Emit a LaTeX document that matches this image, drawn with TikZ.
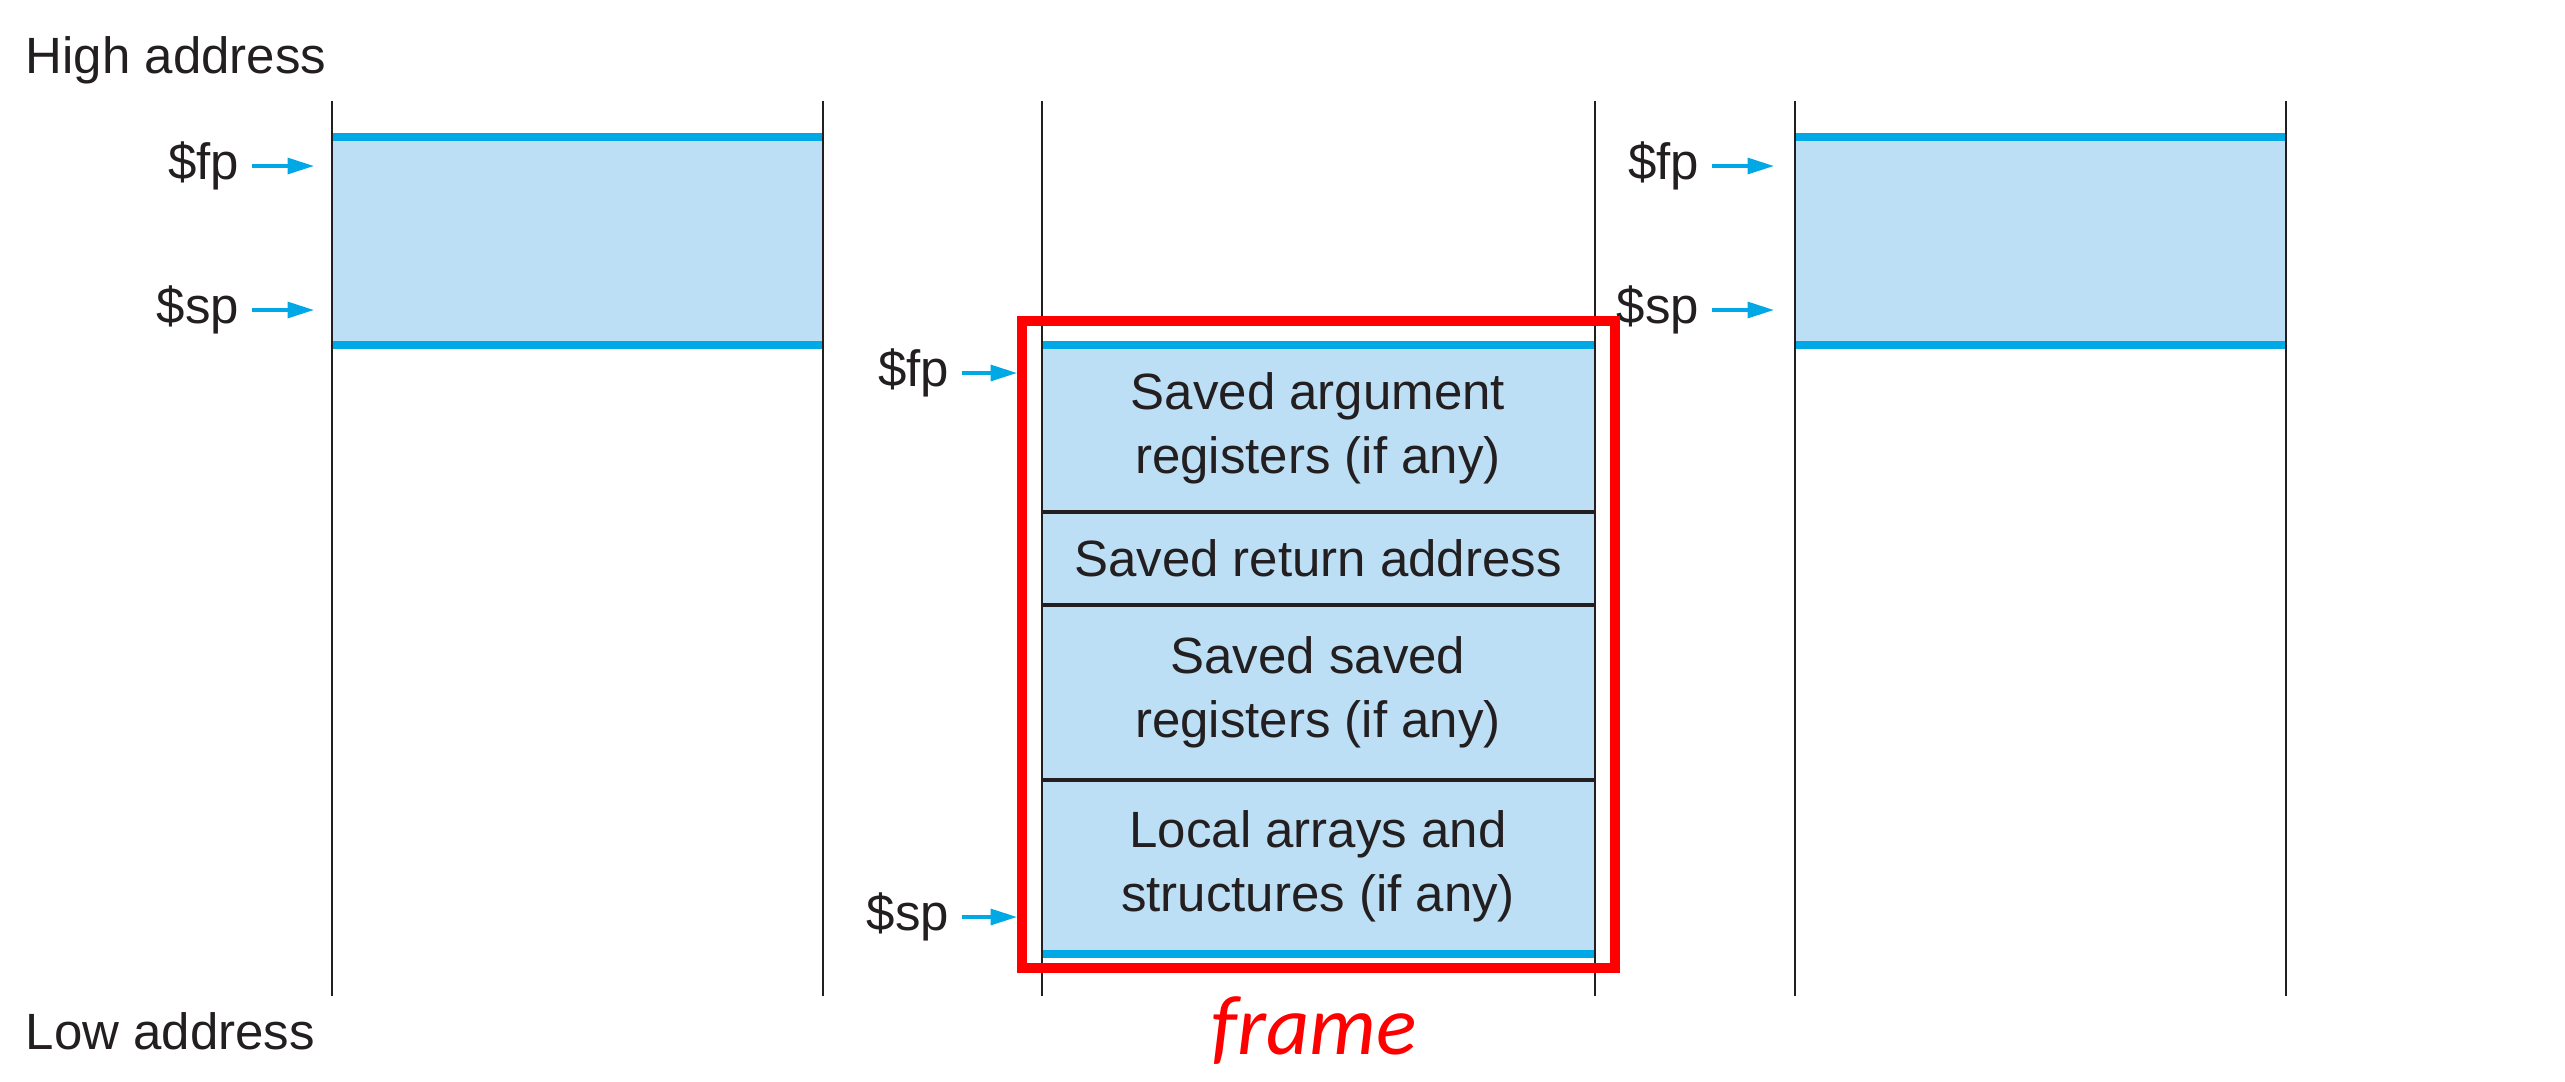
\documentclass[tikz,border=0pt]{standalone}
\usepackage{fontspec}
\setmainfont{Liberation Sans}
\newfontfamily\framefont{Carlito}
\usetikzlibrary{arrows.meta,positioning}

\definecolor{cellfill}{HTML}{BCDFF5}
\definecolor{ptrblue}{HTML}{00A9E5}
\definecolor{wallgray}{HTML}{231F20}

\begin{document}
\begin{tikzpicture}[x=0.01cm,y=-0.01cm,
  wall/.style={wallgray,line width=0.8pt},
  bound/.style={ptrblue,line width=2.5pt},
  sepline/.style={wallgray,line width=0.9pt},
  lbl/.style={font=\fontsize{14.5}{18}\selectfont,text=wallgray,inner xsep=3.5pt,inner ysep=0pt},
  ptr/.style={->,>={Triangle[length=7.5pt,width=4.5pt]},ptrblue,line width=1pt},
  cell/.style={font=\fontsize{14.5}{18.2}\selectfont,text=wallgray,align=center},
  side/.style={font=\fontsize{14.5}{18}\selectfont,text=wallgray,inner sep=0pt,anchor=base west}]
\useasboundingbox (0,0) rectangle (2565,1081);

% stack contents
\fill[cellfill] (332,137) rectangle (823,345);
\fill[cellfill] (1042,345) rectangle (1595,954);
\fill[cellfill] (1795,137) rectangle (2286,345);
\foreach \y in {512,605,780}
  \draw[sepline] (1042,\y) -- (1595,\y);
\draw[bound] (332,137) -- (823,137);
\draw[bound] (332,345) -- (823,345);
\draw[bound] (1042,345) -- (1595,345);
\draw[bound] (1042,954) -- (1595,954);
\draw[bound] (1795,137) -- (2286,137);
\draw[bound] (1795,345) -- (2286,345);
\foreach \x in {332,823,1042,1595,1795,2286}
  \draw[wall] (\x,101) -- (\x,996);

\node[side] (high) at (25,73) {High address};
\node[side] (low) at (25,1049) {Low address};

\node[cell] (args) at (1318,428) {Saved argument\\registers (if any)};
\node[cell] (retaddr) at (1318,558) {Saved return address};
\node[cell] (saved) at (1318,692) {Saved saved\\registers (if any)};
\node[cell] (locals) at (1318,866) {Local arrays and\\structures (if any)};

% pointers
\coordinate (fpatip) at (314,166);
\coordinate (spatip) at (314,310);
\coordinate (fpbtip) at (1017,373);
\coordinate (spbtip) at (1017,917);
\coordinate (fpctip) at (1774,166);
\coordinate (spctip) at (1774,310);
\node[lbl,anchor=east] (fpa) at (252,166) {\$fp};
\node[lbl,anchor=east] (spa) at (252,310) {\$sp};
\node[lbl,anchor=east] (fpb) at (962,373) {\$fp};
\node[lbl,anchor=east] (spb) at (962,917) {\$sp};
\node[lbl,anchor=east] (fpc) at (1712,166) {\$fp};
\node[lbl,anchor=east] (spc) at (1712,310) {\$sp};
\draw[ptr] (fpa) -- (fpatip);
\draw[ptr] (spa) -- (spatip);
\draw[ptr] (fpb) -- (fpbtip);
\draw[ptr] (spb) -- (spbtip);
\draw[ptr] (fpc) -- (fpctip);
\draw[ptr] (spc) -- (spctip);

% frame
\draw[red,line width=2.9pt] (1022,321) rectangle (1615,968);
\node[font=\framefont\itshape\fontsize{24}{28}\selectfont,text=red] (framelbl) at (1314,1031) {frame};
\end{tikzpicture}
\end{document}
